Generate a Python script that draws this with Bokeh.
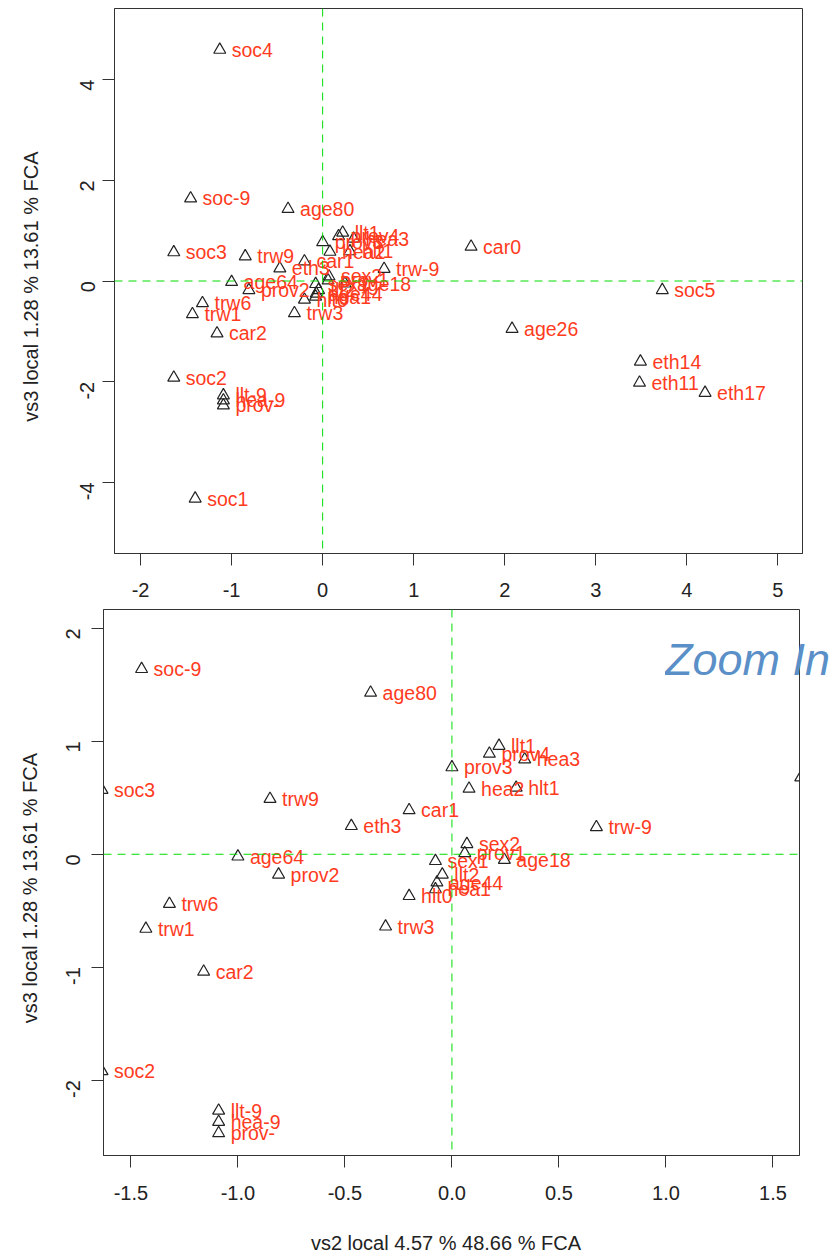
import math
from bokeh.plotting import figure
from bokeh.models import Range1d, FixedTicker, Span, ColumnDataSource, Div
from bokeh.embed import file_html
from bokeh.resources import INLINE
from bokeh.core.properties import value

# ---- data ----
labels = ["soc4", "soc-9", "age80", "soc3", "trw9", "car0", "trw-9", "soc5",
          "age26", "eth14", "eth11", "eth17", "car2", "trw6", "trw1", "age64",
          "prov2", "soc2", "llt-9", "hea-9", "prov-", "soc1", "eth3", "car1",
          "llt1", "prov4", "hea3", "prov3", "hea2", "hlt1", "sex2", "prov1",
          "age18", "sex1", "llt2", "age44", "hea1", "hlt0", "trw3"]
vs2 = [-1.13, -1.45, -0.38, -1.635, -0.85, 1.63, 0.675, 3.73,
       2.08, 3.49, 3.48, 4.20, -1.16, -1.32, -1.43, -1.00,
       -0.81, -1.635, -1.09, -1.09, -1.09, -1.40, -0.47, -0.20,
       0.22, 0.175, 0.34, 0.0, 0.08, 0.30, 0.07, 0.06,
       0.245, -0.077, -0.045, -0.07, -0.077, -0.20, -0.31]
vs3 = [4.59, 1.64, 1.43, 0.57, 0.49, 0.68, 0.24, -0.18,
       -0.95, -1.60, -2.02, -2.22, -1.04, -0.44, -0.66, -0.02,
       -0.18, -1.92, -2.27, -2.37, -2.47, -4.32, 0.25, 0.39,
       0.96, 0.89, 0.84, 0.77, 0.58, 0.59, 0.09, 0.01,
       -0.05, -0.06, -0.18, -0.25, -0.31, -0.37, -0.64]

top_xticks = [-2, -1, 0, 1, 2, 3, 4, 5]
top_xtick_labels = ["-2", "-1", "0", "1", "2", "3", "4", "5"]
top_yticks = [-4, -2, 0, 2, 4]
top_ytick_labels = ["-4", "-2", "0", "2", "4"]
zoom_xticks = [-1.5, -1.0, -0.5, 0.0, 0.5, 1.0, 1.5]
zoom_xtick_labels = ["-1.5", "-1.0", "-0.5", "0.0", "0.5", "1.0", "1.5"]
zoom_yticks = [-2, -1, 0, 1, 2]
zoom_ytick_labels = ["-2", "-1", "0", "1", "2"]

x_title = "vs2  local 4.57 %  48.66 % FCA"
y_title = "vs3  local 1.28 %  13.61 % FCA"
zoom_text = "Zoom In"

FONT = "Liberation Sans"
RED = "#FF3B1E"
GREEN = "#00DD00"
DARK = "#333333"


def style_axes(p, xs1, ys1, ys2, xs2=None):
    for ax in (p.xaxis[0], p.yaxis[0]):
        ax.axis_line_color = DARK
        ax.major_tick_line_color = DARK
        ax.major_tick_out = 12
        ax.major_tick_in = 0
        ax.minor_tick_out = 0
        ax.minor_tick_in = 0
        ax.major_label_text_font = FONT
        ax.major_label_text_font_size = "20px"
        ax.major_label_text_color = "#222222"
        ax.axis_label_text_font = FONT
        ax.axis_label_text_font_size = "20px"
        ax.axis_label_text_font_style = "normal"
        ax.axis_label_text_color = "#222222"
    p.xaxis[0].major_label_standoff = xs1
    p.yaxis[0].major_label_standoff = ys1
    p.yaxis[0].major_label_orientation = math.pi / 2
    p.yaxis[0].axis_label_standoff = ys2
    if xs2 is not None:
        p.xaxis[0].axis_label_standoff = xs2
    p.xgrid.visible = False
    p.ygrid.visible = False
    p.outline_line_color = DARK
    p.outline_line_width = 1
    p.outline_line_alpha = 1


def add_points(p):
    src = ColumnDataSource(dict(x=vs2, y=vs3, label=labels))
    p.add_layout(Span(location=0, dimension="height", line_color=GREEN,
                      line_dash="8 6", line_width=1))
    p.add_layout(Span(location=0, dimension="width", line_color=GREEN,
                      line_dash="8 6", line_width=1))
    p.scatter(x="x", y="y", source=src, marker="triangle", size=12,
              fill_alpha=0, line_color="#222222", line_width=1.2)
    p.text(x="x", y="y", text="label", source=src, x_offset=12,
           text_baseline="middle", text_align="left",
           text_font=value(FONT), text_font_size="19.5px", text_color=RED)


# ---- top panel (full view) ----
p1 = figure(width=838, height=601,
            x_range=Range1d(-2.286, 5.27), y_range=Range1d(-5.41, 5.41),
            output_backend="svg", toolbar_location=None,
            min_border_left=114, min_border_right=36,
            min_border_top=8, min_border_bottom=48)
p1.xaxis.ticker = FixedTicker(ticks=top_xticks)
p1.xaxis.major_label_overrides = dict(zip(top_xticks, top_xtick_labels))
p1.yaxis.ticker = FixedTicker(ticks=top_yticks)
p1.yaxis.major_label_overrides = dict(zip(top_yticks, top_ytick_labels))
p1.yaxis.axis_label = y_title
style_axes(p1, 17, 15, 29)
add_points(p1)

# ---- bottom panel (zoom in) ----
p2 = figure(width=838, height=655,
            x_range=Range1d(-1.628, 1.624), y_range=Range1d(-2.667, 2.167),
            output_backend="svg", toolbar_location=None,
            min_border_left=103, min_border_right=39,
            min_border_top=8, min_border_bottom=96)
p2.xaxis.ticker = FixedTicker(ticks=zoom_xticks)
p2.xaxis.major_label_overrides = dict(zip(zoom_xticks, zoom_xtick_labels))
p2.yaxis.ticker = FixedTicker(ticks=zoom_yticks)
p2.yaxis.major_label_overrides = dict(zip(zoom_yticks, zoom_ytick_labels))
p2.xaxis.axis_label = x_title
p2.yaxis.axis_label = y_title
style_axes(p2, 18, 18, 16, 29)
add_points(p2)

# "Zoom In" caption: it crosses the plot's right border, so it is an overlay
zoom_div = Div(
    text=('<span style="font-family: \'Liberation Sans\'; font-style: italic; '
          'font-size: 45px; line-height: 52px; color: #5A8FC8; '
          'white-space: nowrap;">' + zoom_text + '</span>'),
    width=178, height=56,
    styles={"position": "absolute", "left": "660px", "top": "629px",
            "overflow": "hidden", "z-index": "10"})

open("out.html", "w").write(file_html([p1, p2, zoom_div], INLINE))
